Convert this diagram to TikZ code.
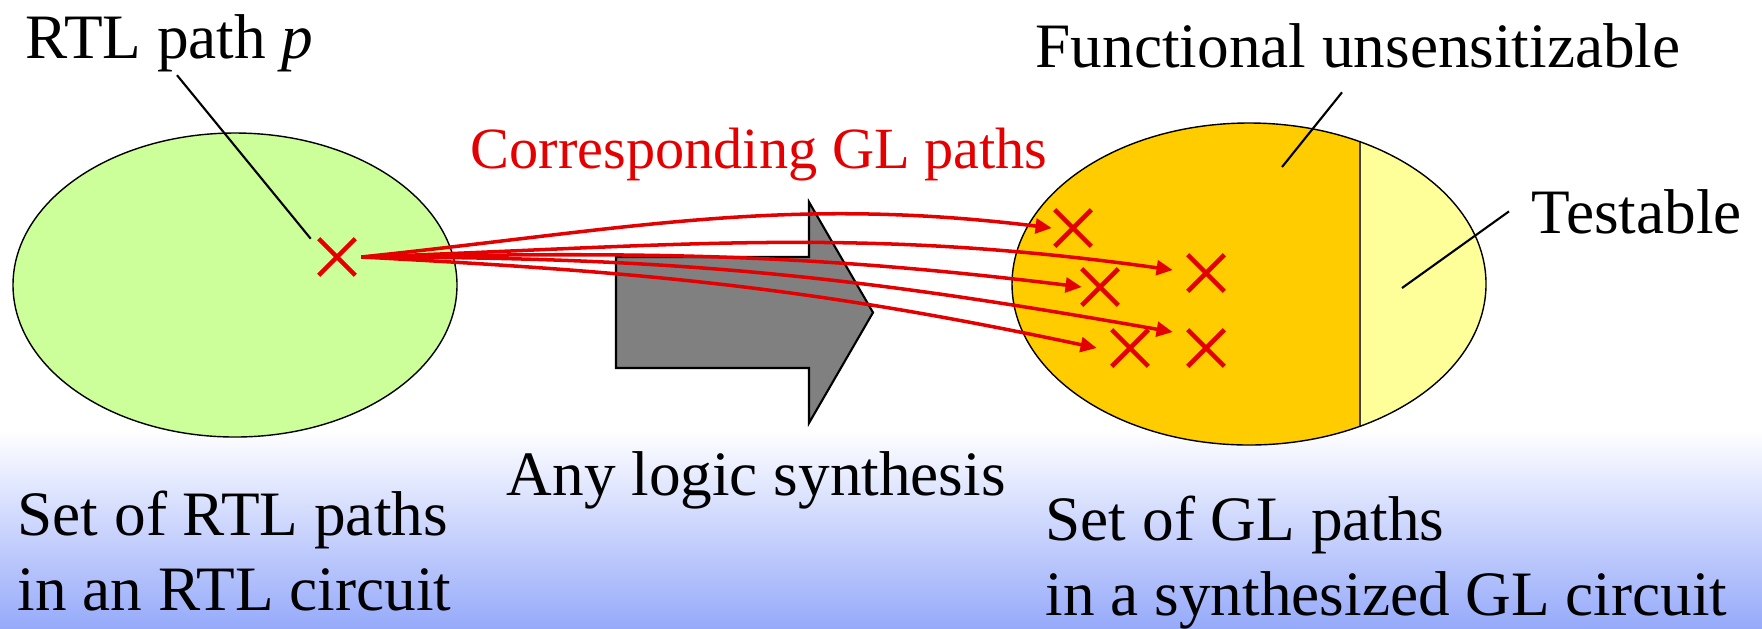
\documentclass[tikz,border=0pt]{standalone}
\usepackage{fontspec}
\setmainfont{Liberation Serif}
\usetikzlibrary{arrows.meta,shapes.misc}
\definecolor{setgreen}{RGB}{204,255,153}
\definecolor{setorange}{RGB}{255,204,0}
\definecolor{setyellow}{RGB}{255,255,153}
\definecolor{pathred}{RGB}{228,0,0}
\definecolor{synthgrey}{RGB}{128,128,128}
\definecolor{slideblue}{RGB}{150,170,250}
\tikzset{
  note/.style={inner sep=0pt, anchor=base west, font=\fontsize{18}{21.3}\selectfont},
  pathx/.style={cross out, draw=pathred, line width=1.3pt, minimum size=3.2mm, inner sep=0pt},
  corr/.style={-{Triangle[length=4.6pt,width=4.2pt]}, line width=1pt, draw=pathred},
  leader/.style={draw=black, line width=0.6pt}
}

\begin{document}
\begin{tikzpicture}
  \useasboundingbox (0,0) rectangle (17.62,6.28);
  \shade[top color=white, bottom color=slideblue] (0,0) rectangle (17.62,1.98);

  % path sets
  \draw[fill=setgreen, line width=0.4pt] (2.35,3.43) ellipse [x radius=2.22, y radius=1.52];
  \fill[setorange] (12.49,3.44) ellipse [x radius=2.37, y radius=1.61];
  \begin{scope}
    \clip (12.49,3.44) ellipse [x radius=2.37, y radius=1.61];
    \fill[setyellow] (13.60,0) rectangle (17.62,6.28);
    \draw[line width=0.6pt, draw=black!75] (13.60,0) -- (13.60,6.28);
  \end{scope}
  \draw[line width=0.4pt] (12.49,3.44) ellipse [x radius=2.37, y radius=1.61];

  % synthesis arrow
  \draw[fill=synthgrey, line width=0.6pt] (6.16,3.71) -- (8.09,3.71) -- (8.09,4.26) -- (8.73,3.155)
    -- (8.09,2.05) -- (8.09,2.60) -- (6.16,2.60) -- cycle;

  \node[pathx] (rtlp) at (3.37,3.71) {};
  \node[pathx] (gl1) at (10.73,4.00) {};
  \node[pathx] (gl2) at (12.06,3.55) {};
  \node[pathx] (gl3) at (11.00,3.41) {};
  \node[pathx] (gl4) at (11.30,2.80) {};
  \node[pathx] (gl5) at (12.06,2.80) {};

  \draw[corr] ([xshift=0.06cm]rtlp.east) to[out=6, in=173] ([xshift=-0.03cm]gl1.west);
  \draw[corr] ([xshift=0.06cm]rtlp.east) to[out=2, in=172] ([shift={(-0.15,0.03)}]gl2.west);
  \draw[corr] ([xshift=0.06cm]rtlp.east) to[out=1, in=173] (gl3.west);
  \draw[corr] ([xshift=0.06cm]rtlp.east) to[out=0, in=170] ([shift={(-0.15,0.16)}]gl5.west);
  \draw[corr] ([xshift=0.06cm]rtlp.east) to[out=-3, in=168] ([xshift=-0.15cm]gl4.west);

  % labels
  \node[note] (rtllabel) at (0.25,5.70) {RTL path \textit{p}};
  \node[note, text=pathred, font=\fontsize{16.6}{20}\selectfont] (corrlabel) at (4.70,4.60) {Corresponding GL paths};
  \node[note] (funclabel) at (10.35,5.61) {Functional unsensitizable};
  \node[note] (testlabel) at (15.31,3.95) {Testable};
  \node[note] (synthlabel) at (5.06,1.33) {Any logic synthesis};
  \node[note, align=left] (rtlset) at (0.17,0.18) {Set of RTL paths\\in an RTL circuit};
  \node[note, align=left] (glset) at (10.45,0.13) {Set of GL paths\\in a synthesized GL circuit};

  \coordinate (funcpoint) at (12.82,4.61);
  \coordinate (testpoint) at (14.02,3.40);
  \draw[leader] ([shift={(1.52,-0.03)}]rtllabel.south west) -- ([xshift=-0.08cm]rtlp.north west);
  \draw[leader] ([shift={(3.07,-0.24)}]funclabel.south west) -- (funcpoint);
  \draw[leader] ([xshift=-0.22cm]testlabel.west) -- (testpoint);
\end{tikzpicture}
\end{document}
